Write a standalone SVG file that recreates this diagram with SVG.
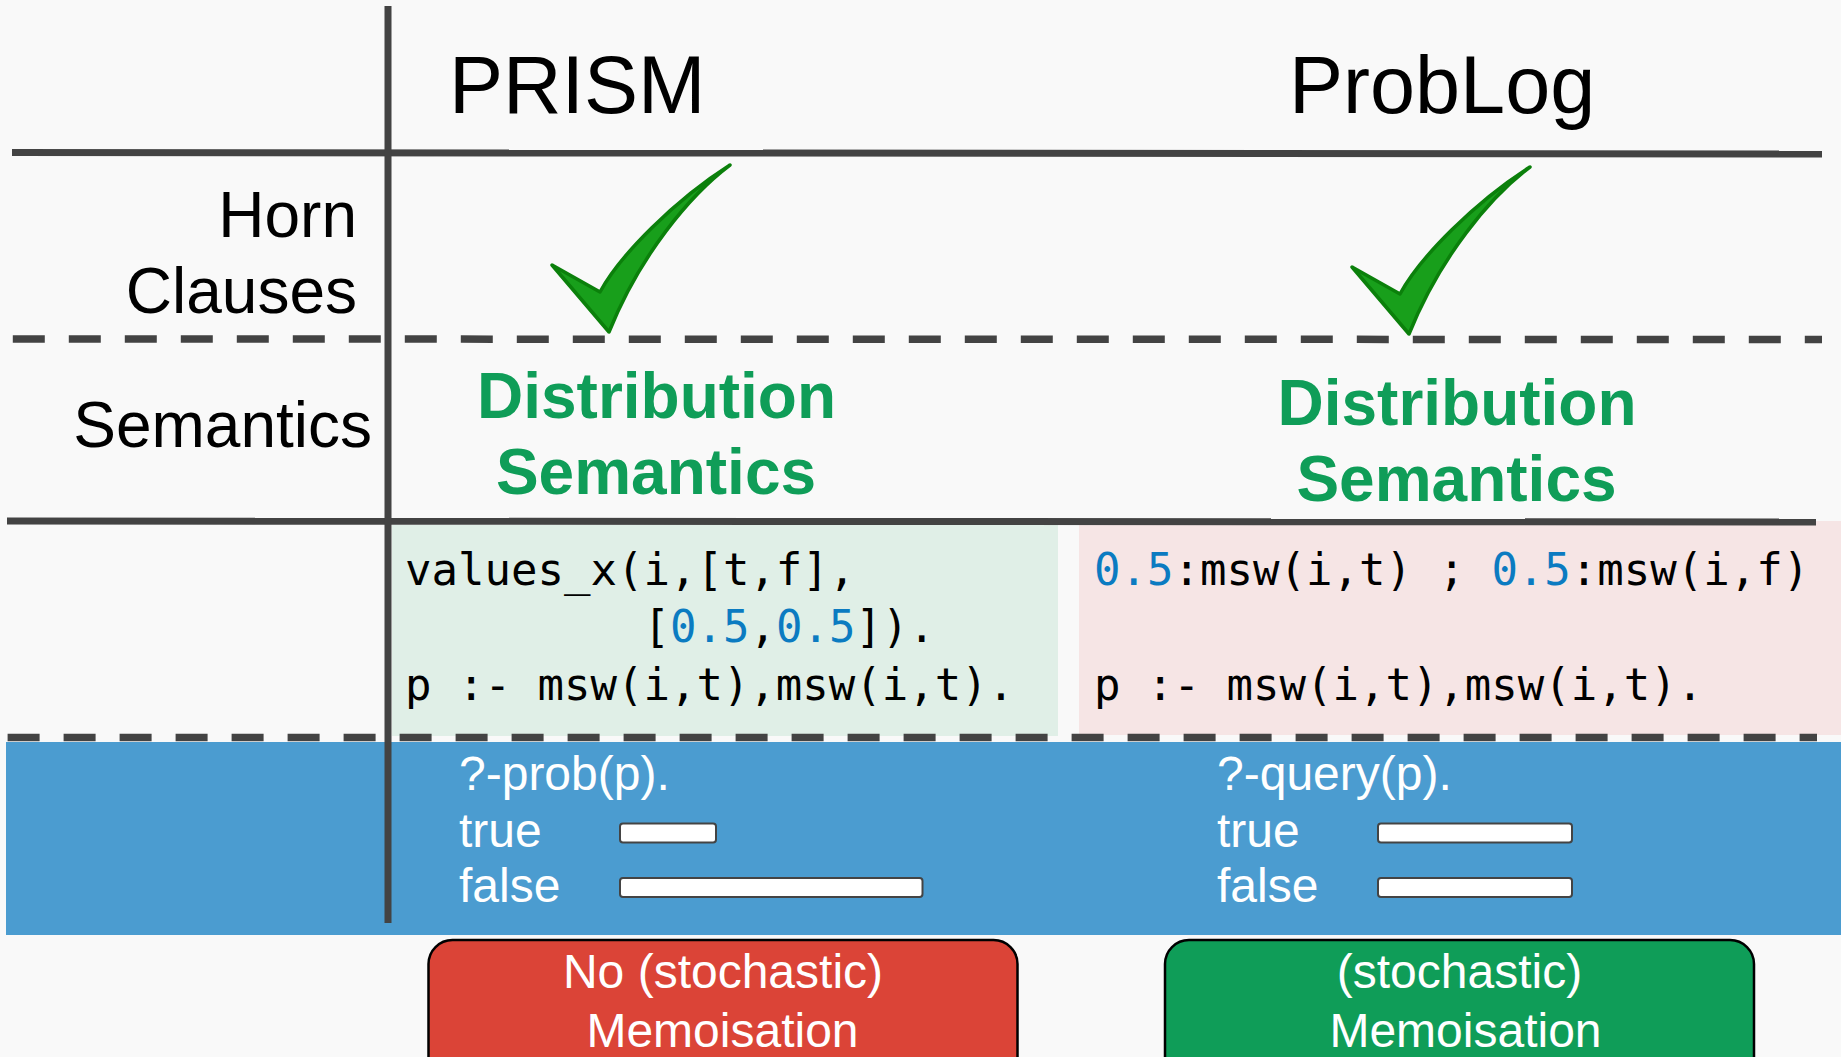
<svg xmlns="http://www.w3.org/2000/svg" width="1841" height="1057" viewBox="0 0 1841 1057">
  <style>
    .sans { font-family: "Liberation Sans", Arial, sans-serif; }
    .hdr { font-size: 81px; fill: #000; }
    .row { font-size: 64px; fill: #000; text-anchor: end; }
    .ds { font-size: 64px; font-weight: bold; fill: #0f9d58; text-anchor: middle; }
    .code { font-family: "DejaVu Sans Mono", monospace; font-size: 44px; fill: #000; }
    .num { fill: #0b7bc1; }
    .q { font-size: 48px; fill: #fff; }
    .memo { font-size: 48px; fill: #fff; text-anchor: middle; }
    .solid { stroke: #434343; stroke-width: 7; fill: none; }
    .dash { stroke: #434343; stroke-width: 7.5; stroke-dasharray: 32 24; fill: none; }
    .bar { fill: #fff; stroke: #444; stroke-width: 2; }
    .tick { fill: #189f1b; stroke: #0b800b; stroke-width: 3.5; stroke-linejoin: round; }
    .verdict { stroke: #000; stroke-width: 2.5; }
  </style>
  <defs>
    <path id="check" d="M609,332 L552,265 L600,292 C620,255 675,200 730,165 C690,195 640,255 609,332 Z"/>
  </defs>

  <rect x="0" y="0" width="1841" height="1057" fill="#f9f9f9"/>

  <!-- code panels -->
  <g id="prism-code">
    <rect x="392" y="525" width="666" height="211" fill="#e0efe7"/>
    <text class="code" x="405" y="585">values_x(i,[t,f],</text>
    <text class="code" x="643.5" y="642">[<tspan class="num">0.5</tspan>,<tspan class="num">0.5</tspan>]).</text>
    <text class="code" x="405" y="700">p :- msw(i,t),msw(i,t).</text>
  </g>
  <g id="problog-code">
    <rect x="1079" y="521" width="762" height="214" fill="#f6e5e5"/>
    <text class="code" x="1094" y="585"><tspan class="num">0.5</tspan>:msw(i,t) ; <tspan class="num">0.5</tspan>:msw(i,f)</text>
    <text class="code" x="1094" y="700">p :- msw(i,t),msw(i,t).</text>
  </g>

  <!-- query band -->
  <g id="query-band">
    <rect x="6" y="742" width="1835" height="193" fill="#4b9cd0"/>
  </g>

  <!-- table rules -->
  <g id="grid">
    <line class="solid" x1="12" y1="152.5" x2="1822" y2="154"/>
    <line class="dash" x1="12.8" y1="339" x2="1822" y2="339.5"/>
    <line class="solid" x1="7" y1="521" x2="1816" y2="522"/>
    <line class="dash" x1="7.6" y1="737.5" x2="1817" y2="737.5"/>
    <line class="solid" x1="388" y1="6" x2="388" y2="923"/>
  </g>

  <!-- column headers -->
  <g id="header-prism"><text class="sans hdr" x="449" y="113">PRISM</text></g>
  <g id="header-problog"><text class="sans hdr" x="1289" y="113">ProbLog</text></g>

  <!-- row labels -->
  <g id="label-horn">
    <text class="sans row" x="357" y="237">Horn</text>
    <text class="sans row" x="357" y="313">Clauses</text>
  </g>
  <g id="label-semantics">
    <text class="sans row" x="372" y="447">Semantics</text>
  </g>

  <!-- Horn clause support -->
  <g id="prism-horn"><use href="#check" class="tick"/></g>
  <g id="problog-horn"><use href="#check" class="tick" transform="translate(800,2)"/></g>

  <!-- semantics cells -->
  <g id="prism-semantics">
    <text class="sans ds" x="656.5" y="418">Distribution</text>
    <text class="sans ds" x="656" y="494">Semantics</text>
  </g>
  <g id="problog-semantics">
    <text class="sans ds" x="1457" y="425">Distribution</text>
    <text class="sans ds" x="1456.5" y="501">Semantics</text>
  </g>

  <!-- query results -->
  <g id="prism-query">
    <text class="sans q" x="459" y="790">?-prob(p).</text>
    <text class="sans q" x="459" y="847">true</text>
    <text class="sans q" x="459" y="902">false</text>
    <rect class="bar" x="620" y="823.5" width="96" height="19" rx="3"/>
    <rect class="bar" x="620" y="878" width="302.5" height="19" rx="3"/>
  </g>
  <g id="problog-query">
    <text class="sans q" x="1217" y="790">?-query(p).</text>
    <text class="sans q" x="1217" y="847">true</text>
    <text class="sans q" x="1217" y="902">false</text>
    <rect class="bar" x="1378" y="823.5" width="194" height="19" rx="3"/>
    <rect class="bar" x="1378" y="878" width="194" height="19" rx="3"/>
  </g>

  <!-- memoisation verdicts -->
  <g id="prism-memo">
    <rect class="verdict" x="428.5" y="940" width="589" height="150" rx="24" fill="#db4437"/>
    <text class="sans memo" x="723" y="988">No (stochastic)</text>
    <text class="sans memo" x="722.5" y="1046.5">Memoisation</text>
  </g>
  <g id="problog-memo">
    <rect class="verdict" x="1165" y="940" width="589" height="150" rx="24" fill="#0f9d58"/>
    <text class="sans memo" x="1459.5" y="987.5">(stochastic)</text>
    <text class="sans memo" x="1465.5" y="1046.5">Memoisation</text>
  </g>
</svg>
